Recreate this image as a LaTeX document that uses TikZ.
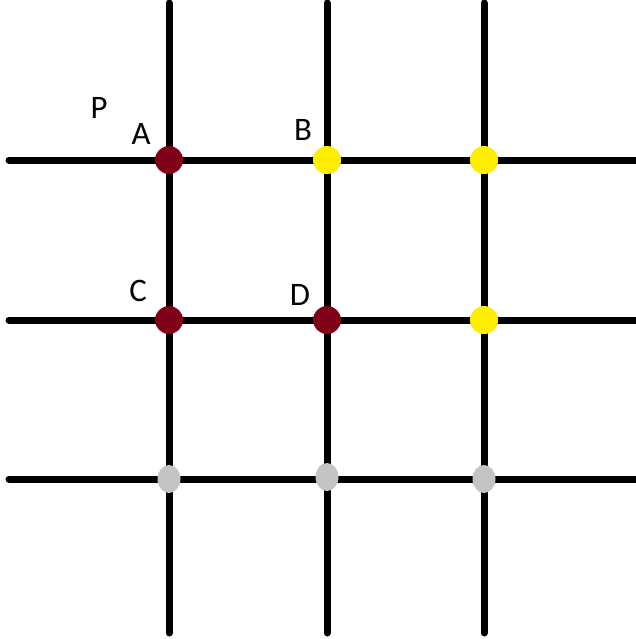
\documentclass[tikz,border=0pt]{standalone}
\usepackage{fontspec}
\setmainfont{Carlito}
\usepackage{tikz}
\usetikzlibrary{shapes.geometric}
\usepackage{xcolor}
\definecolor{wine}{RGB}{128,0,24}
\definecolor{lemon}{RGB}{255,238,0}
\definecolor{stone}{RGB}{196,196,196}

\begin{document}
\begin{tikzpicture}[x=0.03cm, y=-0.03cm,
    gridline/.style={line width=0.21cm, black, line cap=round},
    pt/.style={circle, inner sep=0pt, minimum size=0.84cm},
    ptgrey/.style={ellipse, inner sep=0pt, minimum width=0.69cm, minimum height=0.84cm, fill=stone},
    lbl/.style={font=\fontsize{28}{32}\selectfont, inner sep=0pt}]
        \useasboundingbox (0,0) rectangle (635,639);
        % end points of the grid lines
        \coordinate (t1) at (169,3);   \coordinate (d1) at (169,633);
        \coordinate (t2) at (327,3);   \coordinate (d2) at (327,633);
        \coordinate (t3) at (484,3);   \coordinate (d3) at (484,633);
        \coordinate (l1) at (9,160);   \coordinate (r1) at (645,160);
        \coordinate (l2) at (9,320);   \coordinate (r2) at (645,320);
        \coordinate (l3) at (9,479);   \coordinate (r3) at (645,479);
        % grid
        \foreach \i in {1,2,3} {
          \draw[gridline] (t\i) -- (d\i);
          \draw[gridline] (l\i) -- (r\i);
        }
        % first row
        \node[pt, fill=wine] (A) at (169,160) {};
        \node[pt, fill=lemon] (B) at (327,160) {};
        \node[pt, fill=lemon] (E) at (484,160) {};
        % second row
        \node[pt, fill=wine] (C) at (169,320) {};
        \node[pt, fill=wine] (D) at (327,320) {};
        \node[pt, fill=lemon] (F) at (484,320) {};
        % third row
        \node[ptgrey] (G) at (169,479) {};
        \node[ptgrey] (H) at (327,477) {};
        \node[ptgrey] (I) at (484,479) {};
        % letters
        \node[lbl] (labP) at (99,108) {P};
        \node[lbl] (labA) at (141,134) {A};
        \node[lbl] (labB) at (303,130) {B};
        \node[lbl] (labC) at (138,291) {C};
        \node[lbl] (labD) at (300,295) {D};
      \end{tikzpicture}
\end{document}
